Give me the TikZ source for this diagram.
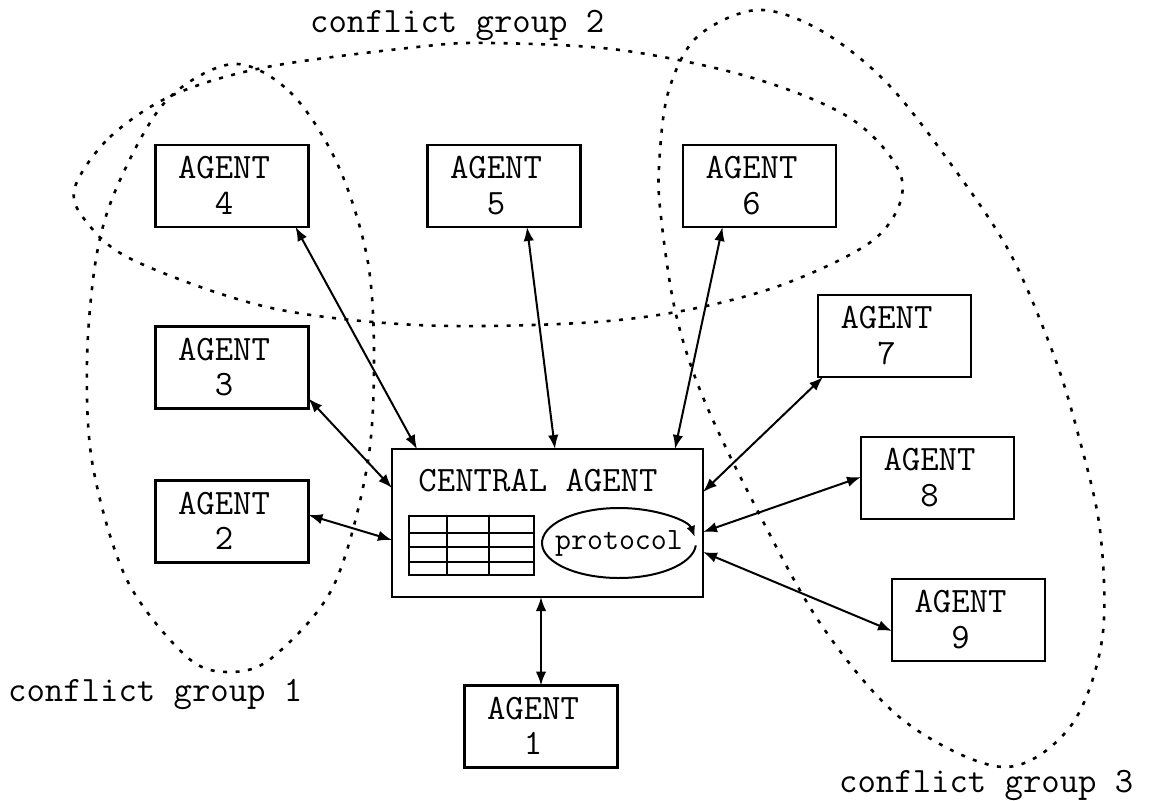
\documentclass[tikz,border=0pt]{standalone}
\usetikzlibrary{arrows.meta}
\begin{document}
\begin{tikzpicture}[x=1pt,y=-1pt,
  agent/.style={draw, line width=2.5pt, fill=white, minimum width=153pt,
    minimum height=82pt, inner sep=0pt, outer sep=0pt},
  agentlabel/.style={align=center, inner sep=0pt, xshift=-8pt, yshift=0.5pt,
    font=\ttfamily\fontsize{35.7}{35.5}\selectfont},
  centralbox/.style={draw, line width=2.5pt, fill=white, minimum width=311pt,
    minimum height=148pt, inner sep=0pt, outer sep=0pt},
  link/.style={line width=2pt, {Latex[length=14pt,width=10.5pt]}-{Latex[length=14pt,width=10.5pt]}},
  group/.style={line width=2.6pt, dash pattern=on 4pt off 8.5pt},
  grouplabel/.style={anchor=base west, inner sep=0pt,
    font=\ttfamily\fontsize{35.7}{40}\selectfont}]
\useasboundingbox (0,0) rectangle (1152,801);

% conflict groups
\draw[group] plot[smooth cycle, tension=0.55] coordinates {
  (75,187) (110,137) (173,95) (267,67) (417,47) (490,43) (620,50) (753,78)
  (853,120) (902,180) (877,237) (787,283) (687,310) (580,323) (417,325)
  (267,307) (133,260) (85,220)};
\draw[group] plot[smooth cycle, tension=0.55] coordinates {
  (233,64) (290,92) (337,163) (367,257) (374,357) (367,467) (333,587)
  (273,657) (230,672) (187,657) (127,580) (93,467) (87,360) (97,253)
  (120,180) (167,100)};
\draw[group] plot[smooth cycle, tension=0.55] coordinates {
  (757,10) (697,37) (668,93) (659,167) (661,217) (675,310) (700,390)
  (747,490) (820,623) (903,720) (1003,767) (1070,727) (1102,640)
  (1100,530) (1077,430) (1053,353) (1010,253) (953,167) (887,83) (820,30)};

\node[grouplabel] (g1) at (8,701) {conflict group 1};
\node[grouplabel] (g2) at (310,32) {conflict group 2};
\node[grouplabel] (g3) at (839,792) {conflict group 3};

% central agent
\node[centralbox] (c) at (547.5,523) {};
\node[inner sep=0pt, font=\ttfamily\fontsize{35.7}{40}\selectfont] (ct) at (538,481) {CENTRAL AGENT};

% table inside the central agent
\draw[line width=2pt] (409,516) rectangle (534,575);
\draw[line width=2pt] (447,516) -- (447,575) (489,516) -- (489,575)
  (409,533) -- (534,533) (409,547) -- (534,547) (409,562) -- (534,562);

% protocol loop
\node[inner sep=0pt, font=\ttfamily\fontsize{31}{36}\selectfont] (proto) at (619,543) {protocol};
\draw[line width=2pt, -{Latex[length=11pt,width=9pt]}] (proto.center) ++(4:77 and 35)
  arc[start angle=4, end angle=350, x radius=77, y radius=35];

% agents
\foreach \n/\x/\y in {4/232/186, 5/504/186, 6/759.5/186, 7/894.5/336,
                      3/232/367.5, 8/937.5/478, 2/232/521.5, 9/968.5/620,
                      1/541/726.5} {
  \node[agent] (a\n) at (\x,\y) {};
  \node[agentlabel] (a\n t) at (a\n.center) {AGENT\\\n};
}

% links to the central agent
\draw[link] ([xshift=-13pt]a4.south east) -- ([xshift=25pt]c.north west);
\draw[link] ([xshift=23pt]a5.south) -- ([xshift=163pt]c.north west);
\draw[link] ([xshift=-37pt]a6.south) -- ([xshift=-28pt]c.north east);
\draw[link] ([yshift=10pt]a3.south east) -- ([yshift=-39pt]c.north west);
\draw[link] ([yshift=6.5pt]a2.east) -- ([yshift=-91pt]c.north west);
\draw[link] ([xshift=5pt]a7.south west) -- ([yshift=-43pt]c.north east);
\draw[link] ([yshift=-40pt]a8.north west) -- ([yshift=-83pt]c.north east);
\draw[link] ([yshift=-52pt]a9.north west) -- ([yshift=-103pt]c.north east);
\draw[link] (c.south -| a1.north) -- (a1.north);
\end{tikzpicture}
\end{document}
